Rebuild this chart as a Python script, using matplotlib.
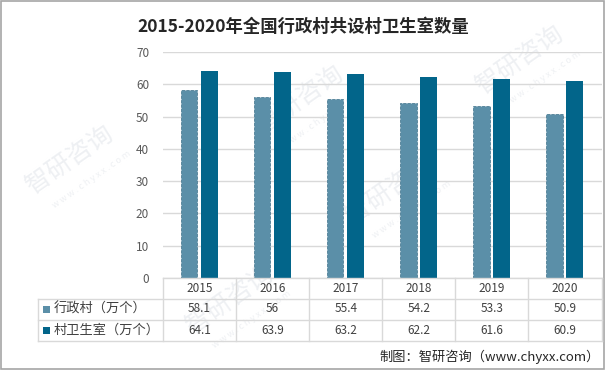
import matplotlib.pyplot as plt
from matplotlib.lines import Line2D
from matplotlib.patches import Rectangle

plt.rcParams['font.family'] = ['Noto Sans CJK SC', 'DejaVu Sans']

years = ['2015', '2016', '2017', '2018', '2019', '2020']
villages = [58.1, 56, 55.4, 54.2, 53.3, 50.9]
clinics = [64.1, 63.9, 63.2, 62.2, 61.6, 60.9]
series_names = ['行政村（万个）', '村卫生室（万个）']
yticks = [0, 10, 20, 30, 40, 50, 60, 70]

c_light = '#5b8fa8'
c_dark = '#02658a'

W, H = 606, 370
fig = plt.figure(figsize=(W / 100, H / 100), dpi=100)


def fx(px):
    return px / W


def fy(py):
    return 1 - py / H


# border
fig.add_artist(Rectangle((0.001, 0.002), 0.996, 0.995, transform=fig.transFigure,
                         fill=False, edgecolor='#a6a6a6', linewidth=1.2))

# faint watermarks behind the chart
for (x, y) in [(70, 160), (300, 100), (520, 60), (390, 190), (230, 300)]:
    fig.text(fx(x), fy(y), '智研咨询', fontsize=18, color='#eef0f3', rotation=35,
             ha='center', va='center', zorder=0.1)
    fig.text(fx(x + 22), fy(y + 20), 'w w w . c h y x x . c o m', fontsize=6.5,
             color='#eef0f3', rotation=35, ha='center', va='center', zorder=0.1)

left, right, top, bottom = 163, 601.5, 52, 278
ax = fig.add_axes([fx(left), fy(bottom), fx(right - left), (bottom - top) / H])
ax.set_zorder(1)
ax.patch.set_alpha(0)

x = list(range(len(years)))
bw = 0.229
ax.bar([i - 0.145 for i in x], villages, width=bw, color=c_light, edgecolor='#4f7f96',
       linestyle='--', linewidth=0.6, zorder=3)
ax.bar([i + 0.135 for i in x], clinics, width=bw, color=c_dark, zorder=3)

ax.set_xlim(-0.5, len(years) - 0.5)
ax.set_ylim(0, 70)
ax.set_yticks(yticks)
ax.set_yticklabels([str(v) for v in yticks], fontsize=8.5, color='#595959')
ax.tick_params(axis='y', length=0, pad=10)
ax.set_xticks([])
ax.grid(axis='y', color='#d9d9d9', linewidth=1, zorder=0)
for s in ['top', 'right', 'left', 'bottom']:
    ax.spines[s].set_visible(False)

fig.text(0.5, fy(27), '2015-2020年全国行政村共设村卫生室数量', ha='center', va='center',
         fontsize=12.5, fontweight='bold', color='#262626', zorder=2)

# data table
lc = '#d9d9d9'
cols = [left + i * (right - left) / len(years) for i in range(len(years) + 1)]
rows = [278, 298.5, 319.5, 340.5]
lab_left = 37.5


def hline(y, x0, x1):
    fig.add_artist(Line2D([fx(x0), fx(x1)], [fy(y), fy(y)], color=lc, linewidth=1, zorder=2))


def vline(x, y0, y1):
    fig.add_artist(Line2D([fx(x), fx(x)], [fy(y0), fy(y1)], color=lc, linewidth=1, zorder=2))


hline(rows[0], left, right)
for r in rows[1:]:
    hline(r, lab_left, right)
for c in cols:
    vline(c, rows[0], rows[3])
vline(lab_left, rows[1], rows[3])

for i, yr in enumerate(years):
    cx = (cols[i] + cols[i + 1]) / 2
    fig.text(fx(cx), fy((rows[0] + rows[1]) / 2), yr, ha='center', va='center',
             fontsize=8.5, color='#404040', zorder=2)
    fig.text(fx(cx), fy((rows[1] + rows[2]) / 2), f'{villages[i]:g}', ha='center',
             va='center', fontsize=8.5, color='#404040', zorder=2)
    fig.text(fx(cx), fy((rows[2] + rows[3]) / 2), f'{clinics[i]:g}', ha='center',
             va='center', fontsize=8.5, color='#404040', zorder=2)

for k, (name, col) in enumerate(zip(series_names, [c_light, c_dark])):
    yc = (rows[k + 1] + rows[k + 2]) / 2
    fig.add_artist(Rectangle((fx(43), fy(yc + 3.5)), fx(7), 7 / H, transform=fig.transFigure,
                             facecolor=col, edgecolor='none', zorder=2))
    fig.text(fx(54), fy(yc), name, ha='left', va='center', fontsize=9.5, color='#404040',
             zorder=2)

fig.text(fx(600), fy(357), '制图：智研咨询（www.chyxx.com）', ha='right', va='center',
         fontsize=9.5, color='#262626', zorder=2)

fig.savefig('out.png', dpi=100)
